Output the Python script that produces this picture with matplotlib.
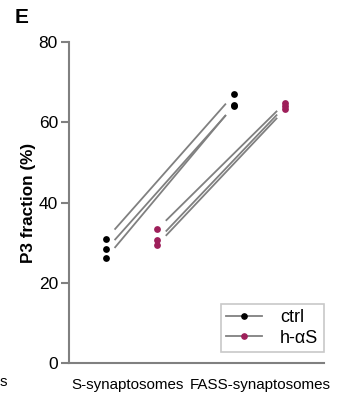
import matplotlib.pyplot as plt
from matplotlib.lines import Line2D
import numpy as np

plt.rcParams['font.family'] = ['Liberation Sans', 'DejaVu Sans']

# data
categories = ['S-synaptosomes', 'FASS-synaptosomes']
groups = ['ctrl', 'h-\u03b1S']
ctrl_s = [30.9, 28.3, 26.2]
ctrl_fass = [67.0, 64.1, 64.3]
has_s = [33.4, 30.6, 29.5]
has_fass = [64.9, 64.1, 63.3]

colors = ['black', '#9e1f5a']
grey = '#808080'
offsets = [-0.2, 0.2]
gap = 0.065  # fraction trimmed off each end of the connecting lines

fig = plt.figure(figsize=(3.49, 3.99), dpi=100)
ax = fig.add_axes([0.198, 0.0902, 0.73, 0.8045])

pairs = [(ctrl_s, ctrl_fass), (has_s, has_fass)]
for k, (a, b) in enumerate(pairs):
    x0, x1 = 0 + offsets[k], 1 + offsets[k]
    for ya, yb in zip(a, b):
        xs = [x0 + gap * (x1 - x0), x1 - gap * (x1 - x0)]
        ys = [ya + gap * (yb - ya), yb - gap * (yb - ya)]
        ax.plot(xs, ys, color=grey, lw=1.3, solid_capstyle='butt', zorder=1)
    ax.scatter([x0] * len(a), a, s=24, color=colors[k], zorder=3, linewidths=0)
    ax.scatter([x1] * len(b), b, s=24, color=colors[k], zorder=3, linewidths=0)

ax.set_xlim(-0.49, 1.5)
ax.set_ylim(0, 80)
ax.set_yticks([0, 20, 40, 60, 80])
ax.set_xticks([-0.03, 1.0])
ax.set_xticklabels(categories, fontsize=10.9)
ax.tick_params(axis='x', length=0, pad=11)
ax.tick_params(axis='y', length=6, width=1.5, color=grey, labelsize=12.5, pad=2)
for side in ['top', 'right']:
    ax.spines[side].set_visible(False)
for side in ['left', 'bottom']:
    ax.spines[side].set_color(grey)
    ax.spines[side].set_linewidth(1.5)
ax.set_ylabel('P3 fraction (%)', fontsize=12.3, fontweight='bold', labelpad=2)

handles = [Line2D([0], [0], color=grey, lw=1.3, marker='o', markersize=3.8,
                  markerfacecolor=c, markeredgecolor=c) for c in colors]
leg = ax.legend(handles, groups, loc='lower right', bbox_to_anchor=(1.0, 0.034),
                borderaxespad=0, fontsize=13, frameon=True, fancybox=False,
                handlelength=2.0, handletextpad=1.0, borderpad=0.3,
                labelspacing=0.2)
leg.get_frame().set_edgecolor('#bbbbbb')
leg.get_frame().set_linewidth(1.2)

fig.text(0.043, 0.955, 'E', fontsize=15, fontweight='bold', va='center')
fig.text(0.0, 0.043, 's', fontsize=10.9, va='center')

fig.savefig('out.png', dpi=100)
